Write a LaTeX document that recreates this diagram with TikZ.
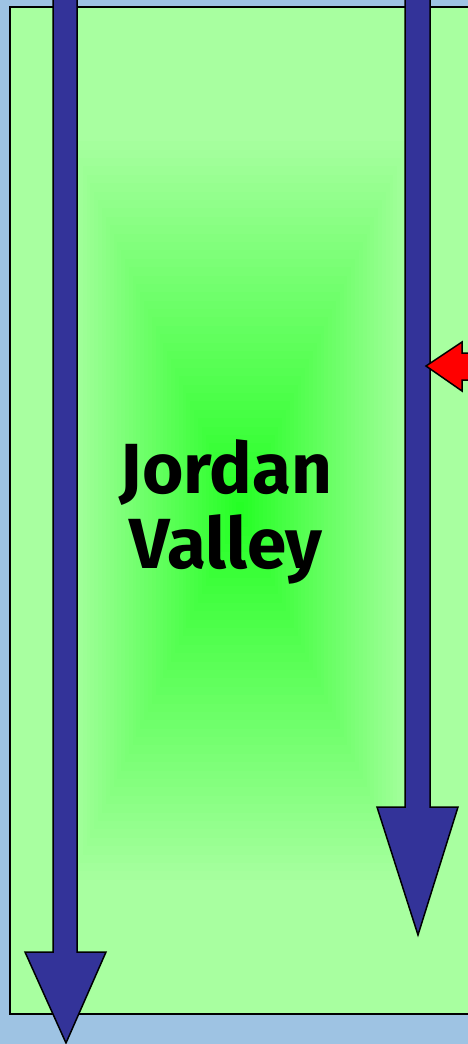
\documentclass[tikz,border=0pt]{standalone}
\usepackage{fontspec}
\setsansfont{Fira Sans}
\usetikzlibrary{positioning}
\definecolor{SkyBlue}{RGB}{158,195,227}
\definecolor{PaleGreen}{RGB}{168,255,160}
\definecolor{BrightGreen}{RGB}{34,255,34}
\definecolor{RiverBlue}{RGB}{51,51,153}
\tikzset{
  blockarrow/.style={fill=RiverBlue,draw=black,line width=1.5pt,line join=miter},
  redarrow/.style={fill=red,draw=black,line width=1.5pt,line join=miter},
  valleytext/.style={font=\sffamily\bfseries\fontsize{71}{75}\selectfont,align=center}
}

\begin{document}
\begin{tikzpicture}[x=1pt,y=-1pt]
    \useasboundingbox (0,0) rectangle (468,1044);
    \fill[SkyBlue] (0,0) rectangle (468,1044);
    \foreach \k in {0,...,60}{
      \pgfmathsetmacro{\s}{1-\k/60}
      \pgfmathsetmacro{\p}{min(100,\s*100/0.75)}
      \fill[PaleGreen!\p!BrightGreen] (240-230*\s,510.5-503.5*\s) rectangle (240+230*\s,510.5+503.5*\s);
    }
    \draw[line width=1.5pt] (10,7) rectangle (470,1014);
    \node[valleytext] (valley) at (226,512) {Jordan\\Valley};
    \draw[blockarrow] (53,-5) -- (53,952) -- (25,952) -- (66,1043) -- (106,952) -- (77,952) -- (77,-5) -- cycle;
    \draw[blockarrow] (405,-5) -- (405,807) -- (377,807) -- (418,935) -- (458,807) -- (430,807) -- (430,-5) -- cycle;
    \draw[redarrow] (480,353) -- (462,353) -- (462,342) -- (426,366) -- (462,391) -- (462,380) -- (480,380) -- cycle;
  \end{tikzpicture}
\end{document}
